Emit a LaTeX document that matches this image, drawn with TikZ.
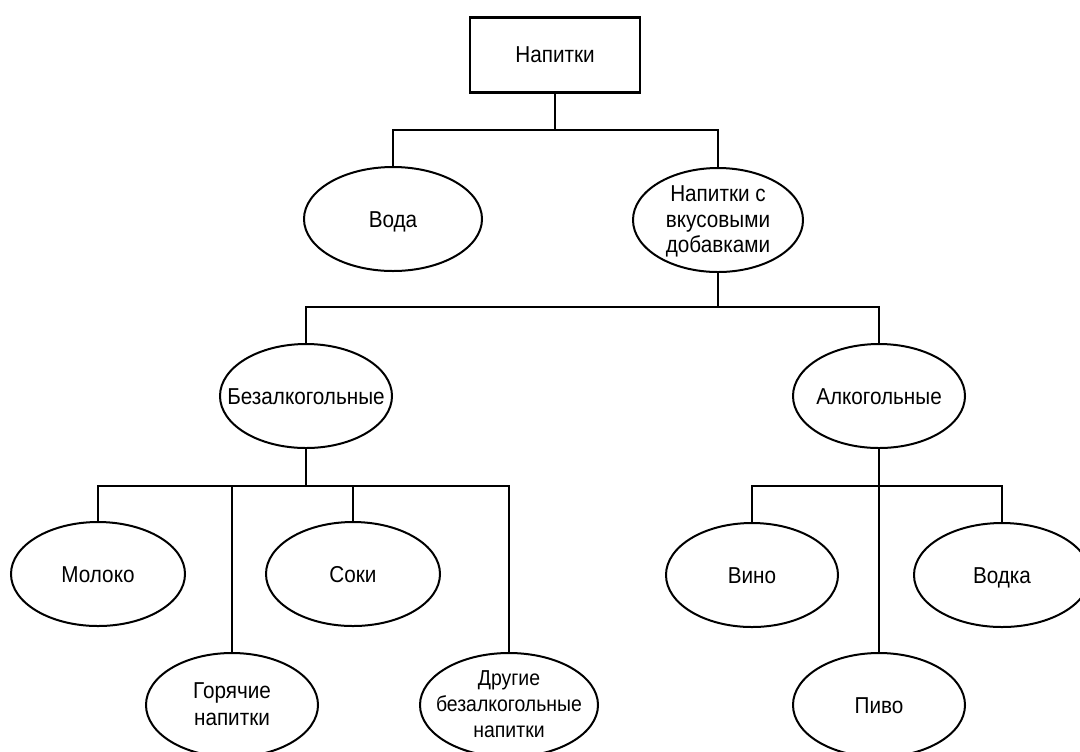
\documentclass[tikz,border=0pt]{standalone}
\usepackage{fontspec}
\setmainfont{Liberation Sans}[FakeStretch=0.9]
\usetikzlibrary{shapes.geometric}

\tikzset{
  labelfont/.style={font=\fontsize{11.5}{12.8}\selectfont},
  leaf/.style={ellipse, draw, line width=1pt, inner sep=0pt,
    minimum width=#1, minimum height=52pt},
  leaf/.default=87pt,
  caption/.style={align=center, inner sep=0pt, labelfont, yshift=-1.5pt,
    execute at begin node=\strut, execute at end node=\strut},
  rootbox/.style={rectangle, draw, line width=1.4pt, minimum width=85pt,
    minimum height=37.5pt, inner sep=0pt, labelfont},
  link/.style={line width=0.9pt}
}

\begin{document}
\begin{tikzpicture}[x=0.5pt, y=-0.5pt]
  \useasboundingbox (0,0) rectangle (1080,751);
  \clip (0,0) rectangle (1080,751);

  % root and first level
  \node[rootbox] (root) at (555,55) {Напитки};
  \node[leaf=89pt, label={[caption]center:Вода}] (voda) at (393,219) {};
  \node[leaf=85pt, label={[caption]center:Напитки с\\вкусовыми\\добавками}] (flav) at (718,220) {};

  % second level
  \node[leaf=86pt, label={[caption]center:Безалкогольные}] (soft) at (306,396) {};
  \node[leaf=86pt, label={[caption]center:Алкогольные}] (alc) at (879,396) {};

  % non-alcoholic drinks
  \node[leaf, label={[caption]center:Молоко}] (milk) at (98,574) {};
  \node[leaf=86pt, label={[caption, font=\fontsize{11.5}{13.5}\selectfont]center:Горячие\\напитки}] (hot) at (232,705) {};
  \node[leaf, label={[caption]center:Соки}] (juice) at (353,574) {};
  \node[leaf=89pt, label={[caption, font=\fontsize{10.8}{13}\selectfont]center:Другие\\безалкогольные\\напитки}] (other) at (509,705) {};

  % alcoholic drinks
  \node[leaf=86pt, label={[caption]center:Вино}] (wine) at (752,575) {};
  \node[leaf=86pt, label={[caption]center:Пиво}] (beer) at (879,705) {};
  \node[leaf=88pt, label={[caption]center:Водка}] (vodka) at (1002,575) {};

  % bus junctions
  \coordinate (j1) at (555,130);
  \coordinate (j2) at (718,307);
  \coordinate (j3) at (306,486);
  \coordinate (j4) at (879,486);

  % connectors
  \draw[link] (root.south) -- (j1);
  \draw[link] (voda.north) |- (j1) -| (flav.north);

  \draw[link] (flav.south) -- (j2);
  \draw[link] (soft.north) |- (j2) -| (alc.north);

  \draw[link] (soft.south) -- (j3);
  \draw[link] (milk.north) |- (j3) -| (other.north);
  \draw[link] (hot.north) -- (hot.north |- j3);
  \draw[link] (juice.north) -- (juice.north |- j3);

  \draw[link] (alc.south) -- (beer.north);
  \draw[link] (wine.north) |- (j4) -| (vodka.north);
\end{tikzpicture}
\end{document}
